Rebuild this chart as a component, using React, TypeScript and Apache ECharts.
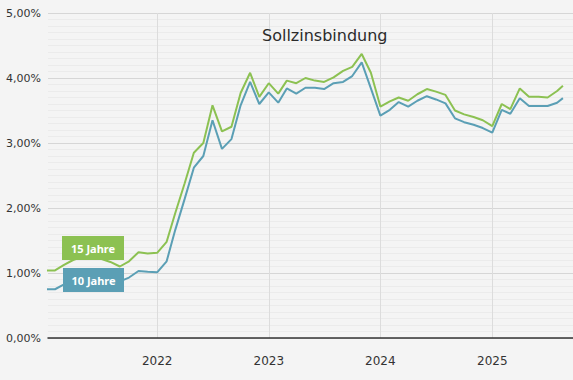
import React, { useEffect, useRef } from "react";
import * as echarts from "echarts";

const dates: string[] = [
  "2021-01-01","2021-02-01","2021-03-01","2021-04-01","2021-05-01","2021-06-01",
  "2021-07-01","2021-08-01","2021-09-01","2021-10-01","2021-11-01","2021-12-01",
  "2022-01-01","2022-02-01","2022-03-01","2022-04-01","2022-05-01","2022-06-01",
  "2022-07-01","2022-08-01","2022-09-01","2022-10-01","2022-11-01","2022-12-01",
  "2023-01-01","2023-02-01","2023-03-01","2023-04-01","2023-05-01","2023-06-01",
  "2023-07-01","2023-08-01","2023-09-01","2023-10-01","2023-11-01","2023-12-01",
  "2024-01-01","2024-02-01","2024-03-01","2024-04-01","2024-05-01","2024-06-01",
  "2024-07-01","2024-08-01","2024-09-01","2024-10-01","2024-11-01","2024-12-01",
  "2025-01-01","2025-02-01","2025-03-01","2025-04-01","2025-05-01","2025-06-01",
  "2025-07-01","2025-08-01","2025-08-20",
];

const jahre15: number[] = [
  1.04, 1.04, 1.12, 1.2, 1.25, 1.25, 1.22, 1.17, 1.1, 1.18, 1.32, 1.3,
  1.31, 1.48, 1.92, 2.38, 2.85, 3.0, 3.58, 3.18, 3.25, 3.77, 4.08, 3.71,
  3.92, 3.76, 3.96, 3.92, 4.0, 3.96, 3.94, 4.01, 4.11, 4.17, 4.37, 4.08,
  3.56, 3.64, 3.7, 3.65, 3.75, 3.83, 3.79, 3.74, 3.5, 3.44, 3.4, 3.35,
  3.26, 3.6, 3.52, 3.84, 3.71, 3.71, 3.7, 3.8, 3.88,
];

const jahre10: number[] = [
  0.75, 0.75, 0.82, 0.88, 0.9, 0.9, 0.88, 0.85, 0.87, 0.93, 1.03, 1.02,
  1.01, 1.18, 1.66, 2.14, 2.62, 2.8, 3.35, 2.91, 3.06, 3.58, 3.94, 3.6,
  3.78, 3.62, 3.84, 3.76, 3.85, 3.85, 3.83, 3.92, 3.94, 4.03, 4.24, 3.84,
  3.42, 3.51, 3.63, 3.56, 3.65, 3.72, 3.67, 3.61, 3.38, 3.32, 3.28, 3.23,
  3.16, 3.51, 3.45, 3.69, 3.57, 3.57, 3.57, 3.62, 3.69,
];

const seriesNames = ["15 Jahre", "10 Jahre"];
const title = "Sollzinsbindung";
const xMin = "2021-01-09";
const xMax = "2025-09-22";

const GREEN = "#8cc152";
const BLUE = "#5b9fb5";

export default function App() {
  const ref = useRef<HTMLDivElement>(null);
  useEffect(() => {
    if (!ref.current) return;
    const chart = echarts.init(ref.current, undefined, { renderer: "svg" });
    const toPts = (vals: number[]) => vals.map((v, i) => [new Date(dates[i] + "T00:00:00Z").getTime(), v]);
    const font = "DejaVu Sans";
    const labelBox = (text: string, color: string, left: number, top: number, w: number) => ({
      type: "group",
      left,
      top,
      z: 100,
      children: [
        { type: "rect", z: 100, shape: { x: 0, y: 0, width: w, height: 24 }, style: { fill: color } },
        {
          type: "text",
          z: 101,
          x: w / 2,
          y: 12,
          style: {
            text,
            fill: "#fff",
            font: "bold 11px 'Noto Sans'",
            align: "center",
            verticalAlign: "middle",
          },
        },
      ],
    });
    chart.setOption({
      animation: false,
      backgroundColor: "#f4f4f4",
      title: {
        text: title,
        left: 257,
        top: 22,
        textStyle: { fontFamily: font, fontSize: 16, fontWeight: "normal", color: "#2b2b2b" },
      },
      grid: { left: 48, right: 0, top: 13, bottom: 42, containLabel: false },
      xAxis: {
        type: "time",
        min: new Date(xMin + "T00:00:00Z").getTime(),
        max: new Date(xMax + "T00:00:00Z").getTime(),
        minInterval: 365 * 24 * 3600 * 1000,
        splitNumber: 4,
        axisLine: { show: true, lineStyle: { color: "#333", width: 1.5 } },
        axisTick: { show: false },
        axisLabel: {
          formatter: "{yyyy}",
          color: "#333",
          fontFamily: font,
          fontSize: 12,
          margin: 17,
          showMinLabel: false,
          showMaxLabel: false,
        },
        splitLine: { show: true, showMinLine: false, showMaxLine: false, lineStyle: { color: "#dcdcdc", width: 1 } },
      },
      yAxis: {
        type: "value",
        min: 0,
        max: 5,
        interval: 1,
        axisLine: { show: false },
        axisTick: { show: false },
        axisLabel: {
          formatter: (v: number) => v.toFixed(2).replace(".", ",") + "%",
          color: "#333",
          fontFamily: font,
          fontSize: 11,
          margin: 7,
        },
        splitLine: { show: true, lineStyle: { color: "#d6d6d6", width: 1 } },
        minorTick: { show: false, splitNumber: 10 },
        minorSplitLine: { show: true, lineStyle: { color: "#ebebeb", width: 1 } },
      },
      series: [
        {
          name: seriesNames[0],
          type: "line",
          data: toPts(jahre15),
          symbol: "none",
          lineStyle: { color: GREEN, width: 2 },
          itemStyle: { color: GREEN },
          z: 3,
        },
        {
          name: seriesNames[1],
          type: "line",
          data: toPts(jahre10),
          symbol: "none",
          lineStyle: { color: BLUE, width: 2 },
          itemStyle: { color: BLUE },
          z: 2,
        },
      ],
      graphic: [
        labelBox(seriesNames[0], GREEN, 62, 236, 62),
        labelBox(seriesNames[1], BLUE, 63, 268, 61),
      ],
    });
    return () => chart.dispose();
  }, []);
  return (
    <div style={{ position: "absolute", left: 0, top: 0, width: 573, height: 380 }}>
      <div ref={ref} style={{ width: 573, height: 380 }} />
    </div>
  );
}
